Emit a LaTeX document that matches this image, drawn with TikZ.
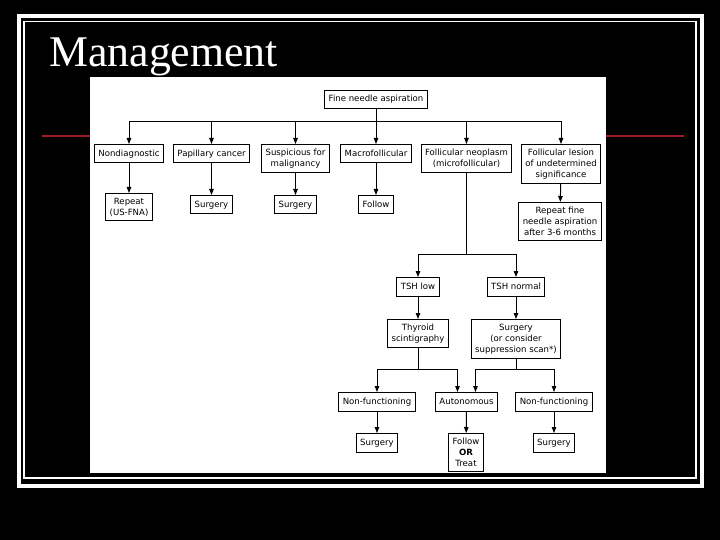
\documentclass[tikz,border=0pt]{standalone}
\usepackage{fontspec}
\setmainfont{Liberation Serif}
\setsansfont{DejaVu Sans}
\usetikzlibrary{arrows.meta, positioning}
\definecolor{ink}{HTML}{000000}
\definecolor{slide}{HTML}{000000}
\definecolor{paper}{HTML}{FFFFFF}
\definecolor{rulered}{HTML}{9B1C26}
\tikzset{
  font=\sffamily\fontsize{8.6}{11}\selectfont,
  >={Triangle[length=6bp, width=4.5bp]},
  %
  box/.style={
    draw=ink, line width=1bp, fill=paper, align=center, text=ink,
    inner xsep=4bp, inner ysep=4.5bp, minimum height=18.5bp,
  },
  flow/.style={draw=ink, line width=1bp, ->},
  link/.style={draw=ink, line width=1bp},
  %
  title/.style={font=\rmfamily\fontsize{44}{48}\selectfont, text=paper, inner sep=0pt},
}
\begin{document}
\begin{tikzpicture}[x=1bp, y=-1bp]

  \fill[slide] (0,0) rectangle (720,540);
  \useasboundingbox (0,0) rectangle (720,540);

  % slide frame and title
  \draw[paper, line width=4bp] (18.5,16.5) rectangle (702,486);
  \draw[paper, line width=1.5bp] (24,21.5) rectangle (696,478);
  \node[title, anchor=base west] (head) at (49,66.5) {Management};
  \draw[rulered, line width=2.5bp] (42,136) -- (684,136);
  \fill[paper] (90,77) rectangle (606,473);

  % first level
  \node[box] (fna) at (376,99.5) {Fine needle aspiration};
  \coordinate (bus1) at (0,122);

  \node[box, anchor=north] (nondiag) at (129,144) {Nondiagnostic};
  \node[box, anchor=north] (papil) at (211.5,144) {Papillary cancer};
  \node[box, anchor=north] (susp) at (295.5,144) {Suspicious for\\malignancy};
  \node[box, anchor=north] (macro) at (376,144) {Macrofollicular};
  \node[box, anchor=north] (neopl) at (466.5,144) {Follicular neoplasm\\(microfollicular)};
  \node[box, anchor=north] (lesion) at (561,144) {Follicular lesion\\of undetermined\\significance};

  \node[box, anchor=north] (repeat) at (129,193) {Repeat\\(US-FNA)};
  \node[box, anchor=north] (surgpap) at (211.5,195) {Surgery};
  \node[box, anchor=north] (surgsus) at (295.5,195) {Surgery};
  \node[box, anchor=north] (follow) at (376,195) {Follow};
  \node[box, anchor=north] (refna) at (560,202) {Repeat fine\\needle aspiration\\after 3-6 months};

  \draw[flow] (fna.south) -- (macro.north);
  \foreach \n in {nondiag,papil,susp,neopl,lesion}
    \draw[flow] (fna.south |- bus1) -| (\n.north);

  \draw[flow] (nondiag) -- (repeat);
  \draw[flow] (papil) -- (surgpap);
  \draw[flow] (susp) -- (surgsus);
  \draw[flow] (macro) -- (follow);
  \draw[flow] (lesion) -- (refna);

  % follicular neoplasm
  \coordinate (bus2) at (0,255);
  \node[box, anchor=north] (tshlow) at (418,277) {TSH low};
  \node[box, anchor=north] (tshnorm) at (516,277) {TSH normal};
  \node[box, anchor=north] (scint) at (418,319) {Thyroid\\scintigraphy};
  \node[box, anchor=north] (surgtsh) at (516,319) {Surgery\\(or consider\\suppression scan*)};

  \draw[link] (neopl.south) -- (neopl.south |- bus2);
  \draw[flow] (neopl.south |- bus2) -| (tshlow.north);
  \draw[flow] (neopl.south |- bus2) -| (tshnorm.north);
  \draw[flow] (tshlow) -- (scint);
  \draw[flow] (tshnorm) -- (surgtsh);

  % scan result
  \coordinate (bus3) at (0,369);
  \node[box, anchor=north] (nonfa) at (377,392) {Non-functioning};
  \node[box, anchor=north] (auton) at (466.5,392) {Autonomous};
  \node[box, anchor=north] (nonfb) at (554,392) {Non-functioning};
  \node[box, anchor=north] (surga) at (377,433) {Surgery};
  \node[box, anchor=north] (fot) at (466,433) {Follow\\\textbf{OR}\\Treat};
  \node[box, anchor=north] (surgb) at (554,433) {Surgery};

  \draw[link] (scint.south) -- (scint.south |- bus3);
  \draw[flow] (scint.south |- bus3) -| (nonfa.north);
  \draw[flow] (scint.south |- bus3) -| ([xshift=-9bp]auton.north);
  \draw[link] (surgtsh.south) -- (surgtsh.south |- bus3);
  \draw[flow] (surgtsh.south |- bus3) -| ([xshift=9bp]auton.north);
  \draw[flow] (surgtsh.south |- bus3) -| (nonfb.north);

  \draw[flow] (nonfa) -- (surga);
  \draw[flow] (auton) -- (fot);
  \draw[flow] (nonfb) -- (surgb);

\end{tikzpicture}
\end{document}
